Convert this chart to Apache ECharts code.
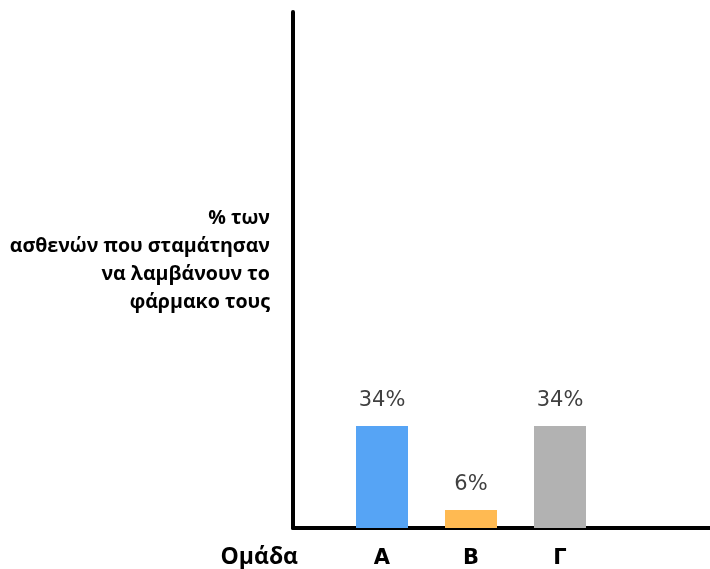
<!DOCTYPE html>
<html>
<head>
<meta charset="utf-8">
<script src="https://cdn.jsdelivr.net/npm/echarts@6/dist/echarts.min.js"></script>
<style>
  html, body { margin: 0; padding: 0; background: #ffffff; }
  #chart { width: 710px; height: 569px; }
</style>
</head>
<body>
<div id="chart"></div>
<script>
// Groups on the x axis (blank slots keep the spacing around the bars)
const categories = ['', 'Α', 'Β', 'Γ', '', ''];
// Share of patients who stopped taking their medicine, per group (%)
const stoppedPct = [null, 34, 6, 34, null, null];
const barColors = ['#56A4F5', '#FFBA52', '#B2B2B2'];
const yAxisTitle = '% των\nασθενών που σταμάτησαν\nνα λαμβάνουν το\nφάρμακο τους';
const xAxisTitle = 'Ομάδα';

const chart = echarts.init(document.getElementById('chart'), null, { renderer: 'canvas' });

let colorIdx = 0;
const barData = stoppedPct.map(v => {
  if (v === null) return null;
  return { value: v, itemStyle: { color: barColors[colorIdx++] } };
});

chart.setOption({
  animation: false,
  backgroundColor: '#ffffff',
  grid: {
    left: 293, top: 12, bottom: 41, right: -28,
    containLabel: false,
    outerBoundsMode: 'none'
  },
  xAxis: {
    type: 'category',
    data: categories,
    boundaryGap: false,
    axisLine: { show: true, lineStyle: { color: '#000', width: 4 } },
    axisTick: { show: false },
    axisLabel: {
      margin: 20,
      fontFamily: 'DejaVu Sans',
      fontWeight: 'bold',
      fontSize: 21,
      color: '#000'
    },
    // an empty spacer line pushes the title below the axis line
    name: '{gap|}\n' + xAxisTitle,
    nameLocation: 'start',
    nameGap: -5,
    nameTextStyle: {
      fontFamily: 'Open Sans',
      fontWeight: 'bold',
      fontSize: 23,
      lineHeight: 28,
      color: '#000',
      rich: { gap: { lineHeight: 58, fontSize: 10 } }
    },
    splitLine: { show: false }
  },
  yAxis: {
    type: 'value',
    min: 0,
    max: 172,
    axisLine: { show: true, lineStyle: { color: '#000', width: 4 } },
    axisTick: { show: false },
    axisLabel: { show: false },
    splitLine: { show: false },
    // trailing spacer line lifts the title block slightly
    name: yAxisTitle + '\n{gap|}',
    nameLocation: 'middle',
    nameRotate: 0,
    nameGap: 23,
    nameTextStyle: {
      fontFamily: 'Open Sans',
      fontWeight: 'bold',
      fontSize: 19.6,
      lineHeight: 28,
      align: 'right',
      color: '#000',
      rich: { gap: { lineHeight: 20, fontSize: 10 } }
    }
  },
  series: [{
    type: 'bar',
    data: barData,
    barWidth: 52,
    label: {
      show: true,
      position: 'top',
      distance: 15,
      formatter: p => p.value + '%',
      fontFamily: 'DejaVu Sans',
      fontSize: 21,
      color: '#404040'
    }
  }]
});
</script>
</body>
</html>
